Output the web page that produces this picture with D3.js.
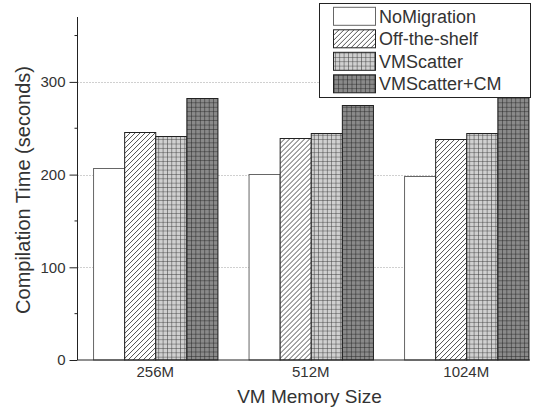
<!DOCTYPE html>
<html><head><meta charset="utf-8">
<script src="https://cdn.jsdelivr.net/npm/d3@7/dist/d3.min.js"></script>
<style>
body{margin:0;background:#fff;}
text{font-family:"Liberation Sans",Arial,sans-serif;fill:#333;}
</style></head>
<body><svg id="c" width="542" height="410"></svg>
<script>
const categories = ["256M", "512M", "1024M"];
const seriesNames = ["NoMigration", "Off-the-shelf", "VMScatter", "VMScatter+CM"];
const noMigration = [207, 201, 198];
const offTheShelf = [246, 240, 238];
const vmScatter = [242, 245, 245];
const vmScatterCM = [283, 275, 285];
const yTicks = [0, 100, 200, 300];
const yMinorTicks = [50, 150, 250, 350];
const gridValues = [100, 200, 300];

const seriesValues = [noMigration, offTheShelf, vmScatter, vmScatterCM];

(function(){
const svg = d3.select("#c");
const defs = svg.append("defs");

const ph = defs.append("pattern").attr("id","hatch").attr("patternUnits","userSpaceOnUse")
  .attr("width",5).attr("height",5);
ph.append("rect").attr("width",5).attr("height",5).attr("fill","#fff");
ph.append("path").attr("d","M-1,1 l2,-2 M0,5 l5,-5 M4,6 l2,-2").attr("stroke","#222").attr("stroke-width",0.8);

function gridPat(id, s, fill, line){
  const p = defs.append("pattern").attr("id",id).attr("patternUnits","userSpaceOnUse")
    .attr("width",s).attr("height",s);
  p.append("rect").attr("width",s).attr("height",s).attr("fill",fill);
  p.append("path").attr("d",`M0,0 H${s} M0,0 V${s}`).attr("stroke",line).attr("stroke-width",1);
}
gridPat("gridL", 4.35, "#d0d0d0", "#3a3a3a");
gridPat("gridD", 4.45, "#8a8a8a", "#222");

const fills = ["#fff", "url(#hatch)", "url(#gridL)", "url(#gridD)"];
const strokes = ["#666", "#222", "#222", "#222"];

const mLeft = 77.5, mRight = 530, mTop = 17, mBottom = 360;

const y = d3.scaleLinear().domain([0, 370]).range([mBottom, mTop]);
const x0 = d3.scaleBand().domain(categories).range([mLeft, 544]).paddingInner(0.2).paddingOuter(0.1);
const x1 = d3.scaleBand().domain(seriesNames).range([0, x0.bandwidth()]).padding(0);

svg.append("g").selectAll("line").data(gridValues).join("line")
  .attr("x1", mLeft).attr("x2", mRight)
  .attr("y1", d => Math.round(y(d)) + 0.5).attr("y2", d => Math.round(y(d)) + 0.5)
  .attr("stroke", "#a0a0a0").attr("stroke-width", 1).attr("stroke-dasharray", "1,2");

const groups = svg.append("g").selectAll("g").data(categories).join("g")
  .attr("transform", c => `translate(${x0(c)},0)`);
groups.selectAll("rect").data((c, ci) => seriesNames.map((s, si) => ({s, si, v: seriesValues[si][ci]})))
  .join("rect")
  .attr("x", d => x1(d.s) + 0.5)
  .attr("width", x1.bandwidth())
  .attr("y", d => Math.round(y(d.v)) + 0.5)
  .attr("height", d => y(0) - Math.round(y(d.v)) - 0.5)
  .attr("fill", d => fills[d.si])
  .attr("stroke", d => strokes[d.si])
  .attr("stroke-width", 1);

const yAxis = d3.axisLeft(y).tickValues(yTicks).tickSize(8).tickPadding(4).tickSizeOuter(0);
const ga = svg.append("g").attr("transform", `translate(${mLeft},0)`).call(yAxis);
ga.select(".domain").remove();
ga.selectAll(".tick line").attr("stroke", "#222");
ga.selectAll(".tick text").style("font-size", "15px").style("font-family", "'Liberation Sans',Arial,sans-serif").attr("fill", "#333");
svg.append("line").attr("x1", mLeft).attr("x2", mLeft).attr("y1", mTop).attr("y2", mBottom).attr("stroke", "#222");
svg.append("g").selectAll("line").data(yMinorTicks).join("line")
  .attr("x1", mLeft - 3).attr("x2", mLeft).attr("y1", d => y(d)).attr("y2", d => y(d)).attr("stroke", "#222");

const xAxis = d3.axisBottom(x0).tickSize(0).tickPadding(6);
const gx = svg.append("g").attr("transform", `translate(0,${mBottom})`).call(xAxis);
gx.select(".domain").remove();
gx.selectAll(".tick text").style("font-size", "15px").style("font-family", "'Liberation Sans',Arial,sans-serif").attr("fill", "#333");
svg.append("line").attr("x1", mLeft).attr("x2", mRight).attr("y1", mBottom).attr("y2", mBottom).attr("stroke", "#222");

svg.append("text").attr("x", 309.5).attr("y", 403).attr("text-anchor", "middle")
  .style("font-size", "19px").text("VM Memory Size");
svg.append("text").attr("transform", "translate(30,190) rotate(-90)").attr("text-anchor", "middle")
  .style("font-size", "20px").text("Compilation Time (seconds)");

const lg = svg.append("g");
lg.append("rect").attr("x", 319.5).attr("y", 3.5).attr("width", 211).attr("height", 94)
  .attr("fill", "#fff").attr("stroke", "#222");
const rows = lg.selectAll("g").data(seriesNames).join("g")
  .attr("transform", (d, i) => `translate(0,${16.3 + i * 22.5})`);
rows.append("rect").attr("x", 333.5).attr("y", -9).attr("width", 42).attr("height", 18)
  .attr("fill", (d, i) => fills[i]).attr("stroke", (d, i) => strokes[i]);
rows.append("text").attr("x", 379).attr("y", 6.5).style("font-size", "18px").text(d => d);
})();
</script></body></html>
